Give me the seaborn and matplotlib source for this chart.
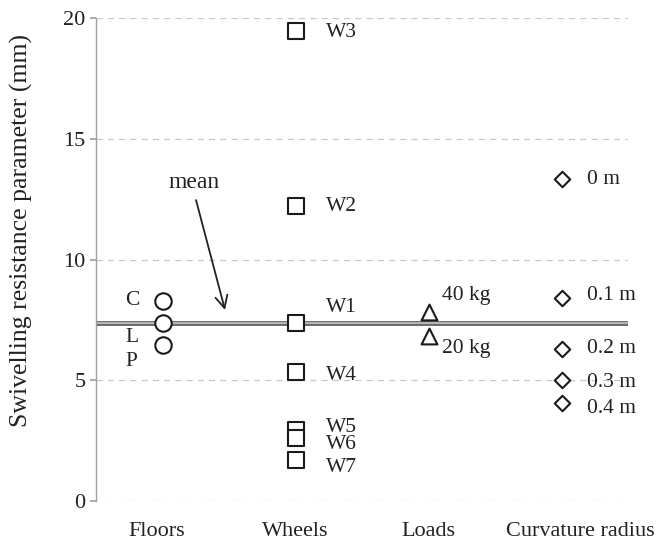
import matplotlib
matplotlib.use("Agg")
import matplotlib.pyplot as plt
import matplotlib.transforms as mtransforms
import seaborn as sns
import pandas as pd

categories = ["Floors", "Wheels", "Loads", "Curvature radius"]

floor_labels = ["C", "L", "P"]
floor_values = [8.3, 7.38, 6.45]

wheel_labels = ["W1", "W2", "W3", "W4", "W5", "W6", "W7"]
wheel_values = [7.38, 12.2, 19.46, 5.35, 2.94, 2.6, 1.7]

load_labels = ["40 kg", "20 kg"]
load_values = [7.84, 6.83]

curv_labels = ["0 m", "0.1 m", "0.2 m", "0.3 m", "0.4 m"]
curv_values = [13.32, 8.42, 6.28, 5.0, 4.06]

mean_value = 7.38
yticks = [0, 5, 10, 15, 20]

groups = [floor_values, wheel_values, load_values, curv_values]
labels = [floor_labels, wheel_labels, load_labels, curv_labels]
rows = []
for ci, (cat, vals, labs) in enumerate(zip(categories, groups, labels)):
    for v, l in zip(vals, labs):
        rows.append({"cat": cat, "x": ci + 0.5, "value": v, "label": l})
df = pd.DataFrame(rows)

sns.set_theme(style="white")
plt.rcParams["font.family"] = ["Liberation Serif", "DejaVu Serif"]

fig = plt.figure(figsize=(6.59, 5.41), dpi=100)
ax = fig.add_axes([0.1457, 0.0739, 0.8073, 0.8928])

# grid
for t in yticks:
    ax.axhline(t, color="#c8c8c8", lw=0.9, ls=(0, (5, 4)), zorder=0)

# mean line (double-edged gray)
ax.plot([0, 4], [mean_value, mean_value], color="#6e6e6e", lw=3.6,
        solid_capstyle="round", zorder=1)
ax.plot([0, 4], [mean_value, mean_value], color="#b8b8b8", lw=1.4,
        solid_capstyle="round", zorder=1.5)

markers = {"Floors": "o", "Wheels": "s", "Loads": "^", "Curvature radius": "D"}
sizes = {"Floors": 140, "Wheels": 135, "Loads": 130, "Curvature radius": 62}
for cat in categories:
    sub = df[df["cat"] == cat]
    sns.scatterplot(data=sub, x="x", y="value", marker=markers[cat],
                    s=sizes[cat], facecolor="white", edgecolor="#1a1a1a",
                    linewidth=1.5, ax=ax, zorder=3, legend=False)

fs = 15.5
tc = "#222222"
# Floors labels (left)
floor_text_y = [8.32, 6.79, 5.76]
for l, ty in zip(floor_labels, floor_text_y):
    ax.text(0.218, ty, l, ha="left", va="center", fontsize=fs, color=tc)
# Wheels labels (right)
wheel_text_y = [8.03, 12.2, 19.38, 5.2, 3.06, 2.32, 1.37]
for l, ty in zip(wheel_labels, wheel_text_y):
    ax.text(1.73, ty, l, ha="left", va="center", fontsize=fs, color=tc)
# Loads
load_text_y = [8.53, 6.33]
for l, ty in zip(load_labels, load_text_y):
    ax.text(2.6, ty, l, ha="left", va="center", fontsize=fs, color=tc)
# Curvature
curv_text_y = [13.33, 8.5, 6.33, 4.9, 3.85]
for l, ty in zip(curv_labels, curv_text_y):
    ax.text(3.69, ty, l, ha="left", va="center", fontsize=fs, color=tc)

# mean annotation
ax.annotate("", xy=(0.97, 7.91), xytext=(0.752, 12.46),
            arrowprops=dict(arrowstyle="->", color=tc, lw=1.3,
                            shrinkA=0, shrinkB=0, mutation_scale=22))
ax.text(0.737, 13.17, "mean", fontsize=17, ha="center", va="center", color=tc)

ax.set_xlim(0, 4)
ax.set_ylim(0, 20)
ax.set_xticks([0.5, 1.5, 2.5, 3.5])
ax.set_xticklabels(categories, fontsize=16, color=tc)
ax.set_yticks(yticks)
ax.set_yticklabels([str(t) for t in yticks], fontsize=16, color=tc)
ax.set_xlabel("")
ax.set_ylabel("Swivelling resistance parameter (mm)", fontsize=18.5, color=tc)
ax.yaxis.set_label_coords(-0.118, 0.56)

for s in ["top", "right", "bottom"]:
    ax.spines[s].set_visible(False)
ax.spines["left"].set_color("#a0a0a0")
ax.spines["left"].set_linewidth(1.0)
ax.tick_params(axis="y", which="major", left=True, length=4.5, color="#a0a0a0", pad=3)
ax.tick_params(axis="x", which="major", bottom=False, pad=9)

# small horizontal offsets of category labels as in the reference
offsets_px = [-6, 0, 0, 19]
for tick, dx in zip(ax.xaxis.get_major_ticks(), offsets_px):
    tick.label1.set_transform(tick.label1.get_transform() +
                              mtransforms.ScaledTranslation(dx / 100, 0, fig.dpi_scale_trans))

fig.savefig("out.png", dpi=100)
